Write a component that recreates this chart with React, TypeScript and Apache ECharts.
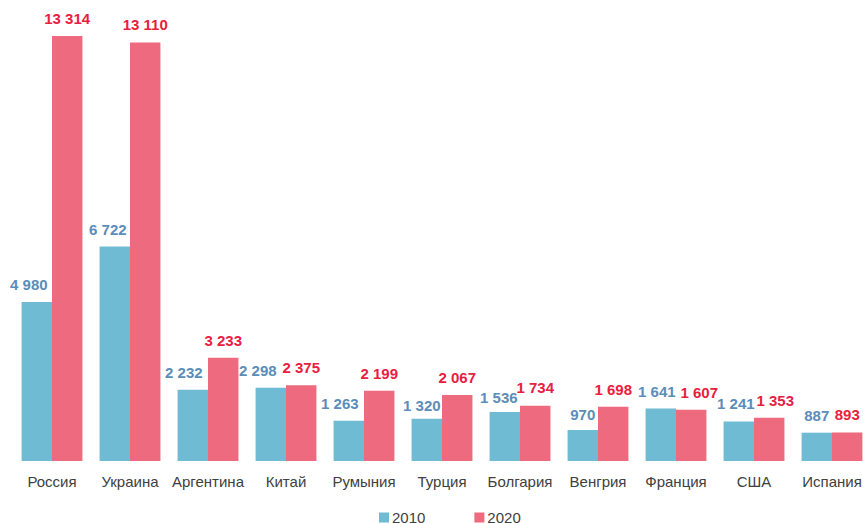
import React, { useEffect, useRef } from "react";
import * as echarts from "echarts";

const categories = ["Россия", "Украина", "Аргентина", "Китай", "Румыния", "Турция", "Болгария", "Венгрия", "Франция", "США", "Испания"];
const values2010 = [4980, 6722, 2232, 2298, 1263, 1320, 1536, 970, 1641, 1241, 887];
const values2020 = [13314, 13110, 3233, 2375, 2199, 2067, 1734, 1698, 1607, 1353, 893];

// hand-placed label nudges (style only), [dx, dy] in px
const labelNudge2010 = [[-8, 0], [-7, 1], [-9, 0], [-13, 0], [-9, 0], [-5, 4], [-6, 3], [0, 2], [-4, 0], [-3, 0], [0, 0]];
const labelNudge2020 = [[0, 0], [0, 0], [0, 0], [0, 0], [0, 0], [0, 0], [0, -1], [0, 0], [8, 0], [6, 0], [0, 0]];

const fmt = (v: number) => {
  const s = String(Math.round(v));
  return s.replace(/\B(?=(\d{3})+(?!\d))/g, " ");
};

export default function App() {
  const ref = useRef<HTMLDivElement>(null);
  useEffect(() => {
    if (!ref.current) return;
    const chart = echarts.init(ref.current, null, { renderer: "svg" });
    const font = "'Liberation Sans', Arial, sans-serif";
    const labelBase = {
      show: true,
      position: "top",
      distance: 10,
      fontSize: 15,
      fontWeight: "bold",
      fontFamily: font,
      formatter: (p: any) => fmt(p.value),
    };
    chart.setOption({
      animation: false,
      textStyle: { fontFamily: font },
      grid: { left: 13, top: 14, right: 0, bottom: 62, containLabel: false },
      legend: {
        top: 510,
        left: 379,
        padding: 0,
        itemWidth: 10,
        itemHeight: 10,
        itemGap: 49,
        icon: "rect",
        textStyle: { fontSize: 15, color: "#404040", fontFamily: font, padding: [0, 0, 0, -2] },
        data: ["2010", "2020"],
      },
      xAxis: {
        type: "category",
        data: categories,
        axisLine: { show: false },
        axisTick: { show: false },
        axisLabel: { fontSize: 15, color: "#404040", margin: 13, fontFamily: font, interval: 0 },
      },
      yAxis: {
        type: "value",
        min: 0,
        max: 14000,
        show: false,
        splitLine: { show: false },
      },
      series: [
        {
          name: "2010",
          type: "bar",
          data: values2010.map((v, i) => ({ value: v, label: { offset: labelNudge2010[i] } })),
          barGap: "0%",
          barCategoryGap: "22%",
          itemStyle: { color: "#6FBBD3" },
          label: { ...labelBase, color: "#5B8DB8" },
        },
        {
          name: "2020",
          type: "bar",
          data: values2020.map((v, i) => ({ value: v, label: { offset: labelNudge2020[i] } })),
          barGap: "0%",
          barCategoryGap: "22%",
          itemStyle: { color: "#EE6A7E" },
          label: { ...labelBase, color: "#E8203F" },
        },
      ],
    });
    return () => chart.dispose();
  }, []);
  return (
    <div style={{ width: 863, height: 523, position: "absolute", left: 0, top: 0, overflow: "hidden" }}>
      <div ref={ref} style={{ width: 871, height: 523 }} />
    </div>
  );
}
